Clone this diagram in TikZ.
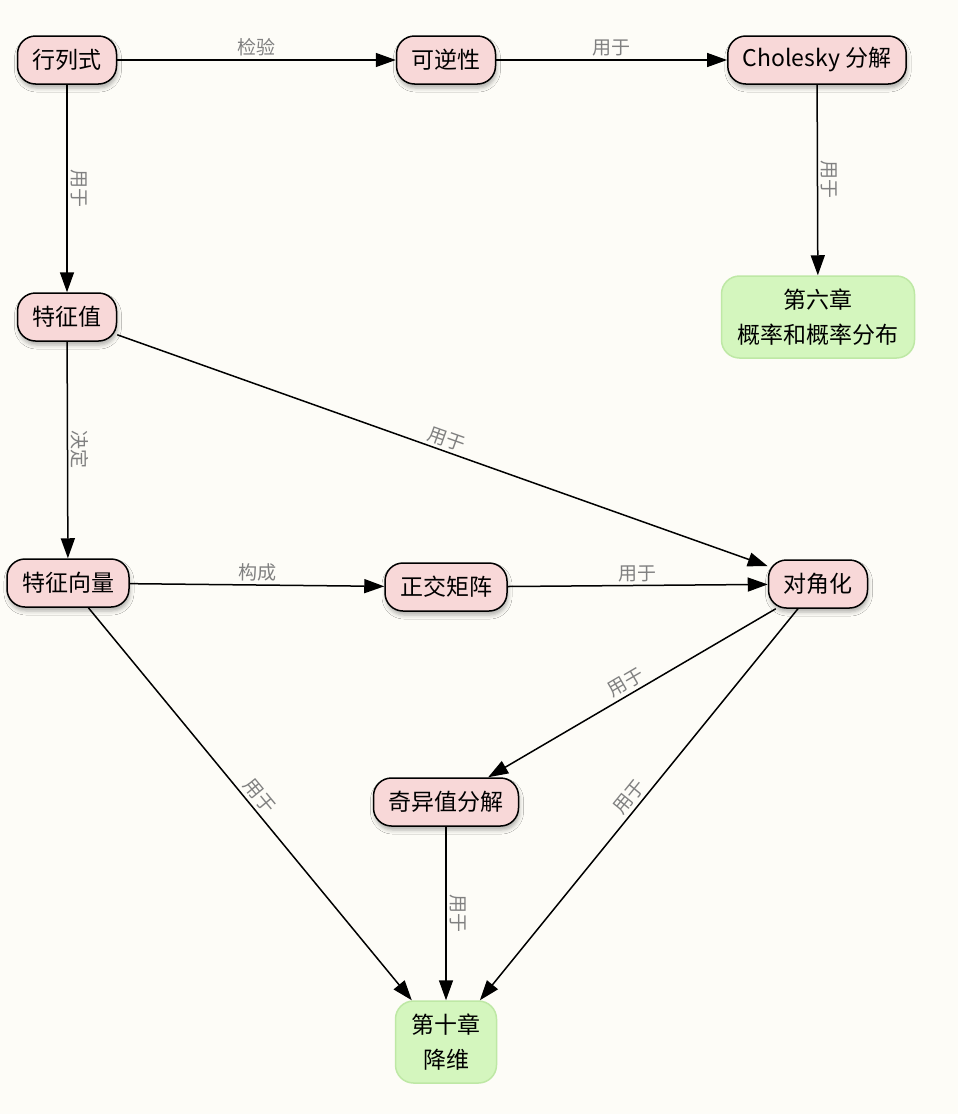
\documentclass[tikz,border=0pt]{standalone}
\usepackage{fontspec}
\setmainfont{Noto Sans CJK SC}
\usetikzlibrary{arrows.meta,shadows.blur}

\definecolor{bgcream}{RGB}{253,252,247}
\definecolor{conceptpink}{RGB}{248,216,216}
\definecolor{chaptergreen}{RGB}{212,246,190}
\definecolor{chapterrim}{RGB}{190,232,165}
\definecolor{linkgray}{RGB}{128,128,128}

\tikzset{
  concept/.style={draw=black, line width=1.5pt, fill=conceptpink, rounded corners=18pt,
    minimum height=48pt, inner xsep=15pt, font=\fontsize{23}{27}\selectfont,
    blur shadow={shadow xshift=1pt, shadow yshift=-4pt, shadow blur radius=4pt, shadow opacity=30}},
  chapter/.style={draw=chapterrim, line width=1.5pt, fill=chaptergreen, rounded corners=18pt,
    minimum height=82pt, inner xsep=16pt, align=center, font=\fontsize{23}{35}\selectfont},
  link/.style={-{Triangle[length=20pt,width=14pt]}, line width=1.5pt},
  linklabel/.style={midway, sloped, above, text=linkgray, inner sep=3pt,
    font=\fontsize{19}{21}\selectfont}
}

\begin{document}
\begin{tikzpicture}[x=1pt,y=-1pt]
%background, sets the size of the page
\fill[bgcream] (0,0) rectangle (958,1114);
\useasboundingbox (0,0) rectangle (958,1114);

% top row
\node[concept] (det) at (67,60) {行列式};
\node[concept] (inv) at (446,60) {可逆性};
\node[concept] (chol) at (817,60) {Cholesky 分解};
\node[chapter] (ch6) at (818,317) {第六章\\概率和概率分布};

% eigen stuff
\node[concept] (eigval) at (67,317) {特征值};
\node[concept] (eigvec) at (68,583) {特征向量};
\node[concept] (orth) at (446,587) {正交矩阵};
\node[concept] (diag) at (818,584) {对角化};
\node[concept] (svd) at (446,802) {奇异值分解};
\node[chapter] (ch10) at (446,1042) {第十章\\降维};

% links
\draw[link] (det) -- node[linklabel] {检验} (inv);
\draw[link] (inv) -- node[linklabel] {用于} (chol);
\draw[link] (det) -- node[linklabel] {用于} (eigval);
\draw[link] (chol) -- node[linklabel] {用于} (ch6);
\draw[link] (eigval) -- node[linklabel] {用于} (diag);
\draw[link] (eigval) -- node[linklabel] {决定} (eigvec);
\draw[link] (eigvec) -- node[linklabel] {构成} (orth);
\draw[link] (orth) -- node[linklabel] {用于} (diag);
\draw[link] (eigvec) -- node[linklabel] {用于} (ch10);
\draw[link] (diag) -- node[linklabel] {用于} (svd);
\draw[link] (diag) -- node[linklabel] {用于} (ch10);
\draw[link] (svd) -- node[linklabel] {用于} (ch10);

\end{tikzpicture}
\end{document}
